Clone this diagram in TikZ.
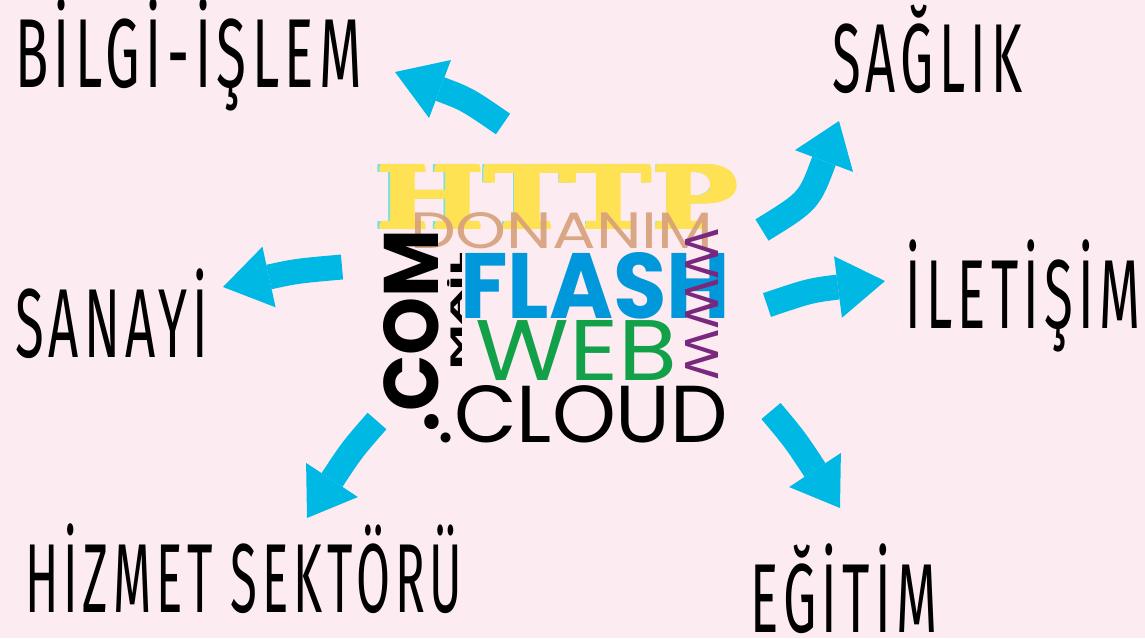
\documentclass[tikz,border=0pt]{standalone}
\usepackage{fontspec}
\usepackage{graphicx}
\usetikzlibrary{calc}
\setmainfont{Fira Sans}
\newfontfamily\lblfont{Fira Sans}[LetterSpace=10]
\newfontfamily\slabfont{DejaVu Serif}
\newfontfamily\geofont{Poppins}
\definecolor{bg}{RGB}{252,236,242}
\definecolor{arrowblue}{RGB}{0,184,228}
\definecolor{httpyellow}{RGB}{255,226,84}
\definecolor{httpedge}{RGB}{120,225,225}
\definecolor{donanimtan}{RGB}{214,160,122}
\definecolor{flashblue}{RGB}{0,152,218}
\definecolor{webgreen}{RGB}{18,160,72}
\definecolor{wwwpurple}{RGB}{122,40,126}
\newcommand\fitw[2]{\resizebox{#1}{\height}{#2}}
\newcommand\fitwh[3]{\resizebox{#1}{#2}{#3}}
\begin{document}
\begin{tikzpicture}[x=1pt,y=-1pt,
  lbl/.style={anchor=base west, inner sep=0pt, font=\lblfont\fontsize{98}{98}\selectfont},
  word/.style={anchor=base west, inner sep=0pt},
  shaft/.style={draw=arrowblue, line width=25pt},
  head/.style={fill=arrowblue}]
\useasboundingbox[fill=bg] (0,0) rectangle (1145,638);

% labels
\node[lbl] (bilgi)    at (15,87)   {\fitw{347pt}{BİLGİ-İŞLEM}};
\node[lbl] (saglik)   at (832,92)  {\fitw{190pt}{SAĞLIK}};
\node[lbl] (sanayi)   at (15,357)  {\fitw{193pt}{SANAYİ}};
\node[lbl] (iletisim) at (905,328) {\fitw{235pt}{İLETİŞİM}};
\node[lbl] (hizmet)   at (25,612)  {\fitw{437pt}{HİZMET SEKTÖRÜ}};
\node[lbl] (egitim)   at (750,632) {\fitw{187pt}{EĞİTİM}};

% word cloud
\foreach \dx/\dy in {-1.5/-1.5,-1.5/1.5}
  \node[word, text=httpedge] at (373.5+\dx,228+\dy) {\fitwh{365pt}{62pt}{\slabfont\bfseries HTTP}};
\foreach \dx/\dy in {0/0,1.5/0,0/-1.5,1.5/-1.5,-1/1,2.5/1}
  \node[word, text=httpyellow] at (375+\dx,228+\dy) {\fitwh{362pt}{62pt}{\slabfont\bfseries HTTP}};
\coordinate (http) at (557,197);
\node[word, text=donanimtan, opacity=0.9] (donanim) at (410,248) {\fitwh{303pt}{36pt}{\geofont DONANIM}};
\node[word, rotate=90] (com) at (438,433) {\fitwh{203pt}{55pt}{\geofont\bfseries .COM}};
\node[word, rotate=90] (mail) at (462,370) {\fitwh{117pt}{15pt}{\geofont\bfseries MAİL}};
\node[word, text=flashblue] (flash) at (460,318) {\fitwh{270pt}{66pt}{\geofont\bfseries FLASH}};
\node[word, rotate=-90, text=wwwpurple] (www) at (685,228) {\fitwh{152pt}{33pt}{\geofont WWW}};
\node[word, text=webgreen] (web) at (475,380) {\fitwh{202pt}{60pt}{\geofont WEB}};
\node[word] (cloud) at (437,442) {\fitwh{291pt}{57pt}{\geofont .CLOUD}};

% arrow coordinates: tail, base of head, tip
\coordinate (t1) at (503,124); \coordinate (b1) at (440,89);  \coordinate (p1) at (395,72);
\coordinate (t2) at (762,230); \coordinate (b2) at (824,161); \coordinate (p2) at (839,121);
\coordinate (t3) at (342,267); \coordinate (b3) at (269,277); \coordinate (p3) at (223,287);
\coordinate (t4) at (767,305); \coordinate (b4) at (838,287); \coordinate (p4) at (885,281);
\coordinate (t5) at (377,421); \coordinate (b5) at (332,480); \coordinate (p5) at (307,518);
\coordinate (t6) at (771,411); \coordinate (b6) at (815,470); \coordinate (p6) at (840,508);

\foreach \i/\k in {1/0.6,2/1.0,3/0.6,4/0.6,5/0.8,6/0.8}{
  \draw[shaft] (t\i) .. controls ($(b\i)!-\k!(p\i)$) .. (b\i);
  \fill[head] (p\i) -- ($(b\i)!31pt!90:(p\i)$) -- ($(b\i)!31pt!-90:(p\i)$) -- cycle;
}
\end{tikzpicture}
\end{document}
